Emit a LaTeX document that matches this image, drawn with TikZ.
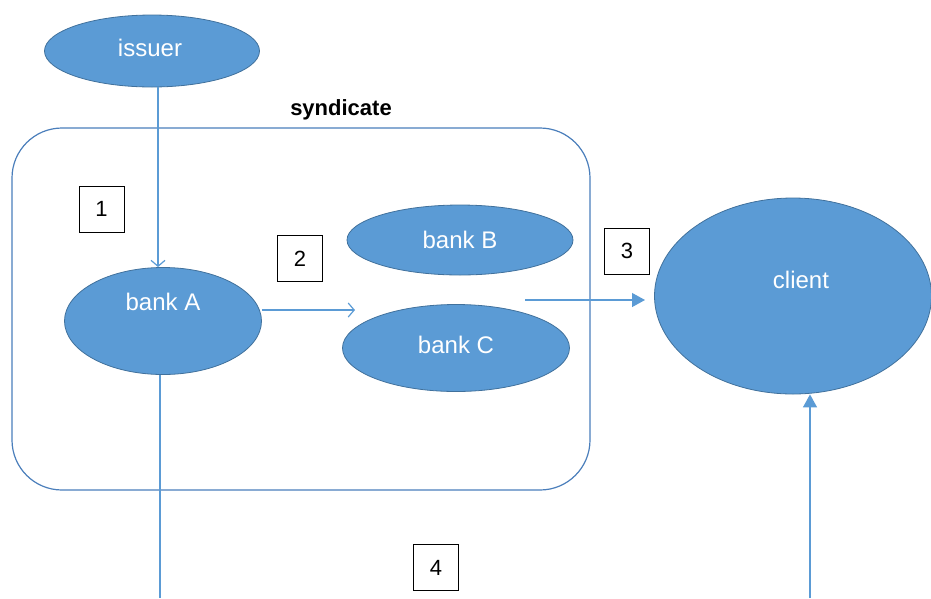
\documentclass[tikz,border=0pt]{standalone}
\usepackage{fontspec}
\setmainfont{Liberation Sans}
\usetikzlibrary{shapes.geometric,arrows.meta}
\definecolor{ellfill}{HTML}{5B9BD5}
\definecolor{ellline}{HTML}{41719C}
\definecolor{conn}{HTML}{5B9BD5}
\definecolor{rectline}{HTML}{4A7EBB}
\tikzset{
  blob/.style={ellipse, fill=ellfill, draw=ellline, line width=0.8pt, inner sep=0pt},
  blobtext/.style={text=white, font=\fontsize{24}{28}\selectfont, inner sep=0pt},
  numbox/.style={draw=black, line width=1pt, fill=white, minimum width=45, minimum height=46, inner sep=0pt, font=\fontsize{22}{26}\selectfont},
  conline/.style={draw=conn, line width=1.2pt},
  openarrow/.style={conline, -{Straight Barb[length=6pt,width=14pt,line width=1.2pt]}},
  fillarrow/.style={conline, -{Triangle[length=13pt,width=14pt]}}
}
\begin{document}
\begin{tikzpicture}[x=1pt,y=-1pt]
\useasboundingbox (0,0) rectangle (931,598);
% syndicate frame
\node[draw=rectline, line width=1.2pt, rounded corners=50, minimum width=578, minimum height=362, inner sep=0pt] (synd) at (301,309) {};
\node[font=\bfseries\fontsize{22}{26}\selectfont, inner sep=0pt] (syndlabel) at (341,110) {syndicate};
% ellipses
\node[blob, minimum width=215, minimum height=72] (issuer) at (152,51) {};
\node[blobtext] (issuertext) at (150,48) {issuer};
\node[blob, minimum width=197, minimum height=107] (bankA) at (163,321) {};
\node[blobtext] (bankAtext) at (163,302) {bank A};
\node[blob, minimum width=226, minimum height=70] (bankB) at (460,240) {};
\node[blobtext] (bankBtext) at (460,240) {bank B};
\node[blob, minimum width=227, minimum height=87] (bankC) at (456,348) {};
\node[blobtext] (bankCtext) at (456,345) {bank C};
\node[blob, minimum width=277, minimum height=196] (client) at (793,296) {};
\node[blobtext] (clienttext) at (801,280) {client};
% number boxes
\node[numbox] (n1) at (101.5,209) {1};
\node[numbox] (n2) at (300,258.5) {2};
\node[numbox] (n3) at (627,251) {3};
\node[numbox] (n4) at (436,567.5) {4};
% free ends
\coordinate (c2end) at (355,310);
\coordinate (c3start) at (525,300);
\coordinate (c3end) at (645,300);
\coordinate (abottom) at (160,598);
\coordinate (cbottom) at (810,598);
% connectors
\draw[openarrow] (issuer.south -| 158,0) -- (bankA.north -| 158,0);
\draw[openarrow] (bankA.east |- c2end) -- (c2end);
\draw[fillarrow] (c3start) -- (c3end);
\draw[conline] (bankA.south -| abottom) -- (abottom);
\draw[fillarrow] (cbottom) -- (client.south -| cbottom);
\end{tikzpicture}
\end{document}
